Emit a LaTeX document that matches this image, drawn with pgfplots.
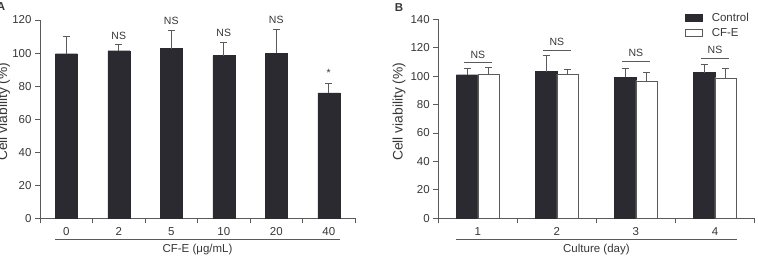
\documentclass[border=0pt]{standalone}
\usepackage{pgfplots}
\pgfplotsset{compat=1.18}
\usepackage{fontspec}
\setmainfont{Liberation Sans}
\definecolor{barc}{RGB}{42,42,48}
\definecolor{axc}{RGB}{90,90,90}
\definecolor{txt}{RGB}{55,55,55}

\pgfplotstableread{
x y e
0 99.6 10.4
1 101.4 3.7
2 102.7 11.0
3 98.4 8.1
4 100.0 14.1
5 75.9 5.6
}\tabA
\pgfplotstableread{
x y e
1 101.0 4.5
2 103.2 11.6
3 99.1 6.4
4 102.5 6.0
}\tabBctrl
\pgfplotstableread{
x y e
1 101.4 4.6
2 101.4 3.5
3 96.8 5.6
4 98.9 6.6
}\tabBcfe

\begin{document}
\begin{tikzpicture}[x=1bp,y=1bp]
\useasboundingbox (0,0) rectangle (758,258);
\pgfplotsset{
 every axis/.append style={
  scale only axis, axis lines*=left,
  axis line style={axc, line width=0.8bp},
  tick style={axc, line width=0.8bp}, tick align=outside,
  major tick length=5bp, minor tick length=5bp,
  font=\fontsize{11.5bp}{13bp}\selectfont,
  /pgf/number format/assume math mode=true,
  tick label style={text=txt},
  ymin=0, clip=false, ybar,
  major x tick style={draw=none},
  yminorticks=false,
  xticklabel style={yshift=-1bp},
 },
 ebar/.style={error bars/.cd, y dir=plus, y explicit,
   error bar style={axc, line width=0.8bp},
   error mark options={rotate=90, mark size=3.5bp, axc, line width=0.8bp}},
}
% ---------- Panel A ----------
\begin{axis}[at={(40bp,39.7bp)}, anchor=south west,
  width=315bp, height=198.3bp,
  xmin=-0.5, xmax=5.5, ymax=120,
  xtick={0,...,5}, xticklabels={0,2,5,10,20,40},
  minor xtick={-0.5,0.5,...,5.5},
  ytick={0,20,...,120},
  bar width=22bp]
\addplot[fill=barc, draw=barc, ebar] table[x=x, y=y, y error=e] {\tabA};
\begin{scope}[font=\fontsize{10.5bp}{12bp}\selectfont, txt]
\node at (axis cs:1,110.6) {NS};
\node at (axis cs:2,119.6) {NS};
\node at (axis cs:3,112.2) {NS};
\node at (axis cs:4,119.8) {NS};
\node at (axis cs:5,88.0) {*};
\end{scope}
\draw[axc, line width=0.8bp] ([yshift=-20.7bp]axis cs:-0.209,0) -- ([yshift=-20.7bp]axis cs:5.209,0);
\node[txt] at ([yshift=-31.7bp]axis cs:2.5,0) {CF-E (μg/mL)};
\end{axis}
% ---------- Panel B ----------
\begin{axis}[at={(438.3bp,39.7bp)}, anchor=south west,
  width=316.2bp, height=199bp,
  xmin=0.5, xmax=4.5, ymax=140,
  xtick={1,...,4},
  minor xtick={0.5,1.5,...,4.5},
  ytick={0,20,...,140},
  bar width=21.5bp,
  legend image code/.code={\draw[#1, line width=0.8bp] (0bp,-3.6bp) rectangle (17bp,3.6bp);},
  legend style={draw=none, fill=none, at={(0.7795,1.033)}, anchor=north west,
    inner sep=0pt, row sep=5.5bp,
    nodes={inner sep=0pt, text=txt},
    /tikz/every odd column/.style={column sep=9bp}},
  legend cell align=left]
\addplot[fill=barc, draw=barc, bar shift=-10.75bp, ebar] table[x=x, y=y, y error=e] {\tabBctrl};
\addlegendentry{Control}
\addplot[fill=white, draw=axc, bar shift=10.75bp, ebar] table[x=x, y=y, y error=e] {\tabBcfe};
\addlegendentry{CF-E}
\begin{scope}[font=\fontsize{10.5bp}{12bp}\selectfont, txt]
\node at (axis cs:1,115.0) {NS};
\node at (axis cs:2,124.3) {NS};
\node at (axis cs:3,116.1) {NS};
\node at (axis cs:4,118.4) {NS};
\end{scope}
\begin{scope}[axc, line width=0.8bp]
\draw (axis cs:0.823,109.5) -- (axis cs:1.177,109.5);
\draw (axis cs:1.823,118.4) -- (axis cs:2.177,118.4);
\draw (axis cs:2.823,110.2) -- (axis cs:3.177,110.2);
\draw (axis cs:3.823,112.5) -- (axis cs:4.177,112.5);
\end{scope}
\draw[axc, line width=0.8bp] ([yshift=-20.9bp]axis cs:0.7275,0) -- ([yshift=-20.9bp]axis cs:4.2725,0);
\node[txt] at ([yshift=-31.7bp]axis cs:2.5,0) {Culture (day)};
\end{axis}
% y labels and panel letters
\node[rotate=90, txt, font=\fontsize{13.8bp}{15bp}\selectfont] at (3.5,146.3) {Cell viability (\%)};
\node[rotate=90, txt, font=\fontsize{13.8bp}{15bp}\selectfont] at (399,146.3) {Cell viability (\%)};
\node[font=\bfseries\fontsize{11.5bp}{13bp}\selectfont, txt] at (1,251.5) {A};
\node[font=\bfseries\fontsize{11.5bp}{13bp}\selectfont, txt] at (399,250) {B};
\end{tikzpicture}
\end{document}
